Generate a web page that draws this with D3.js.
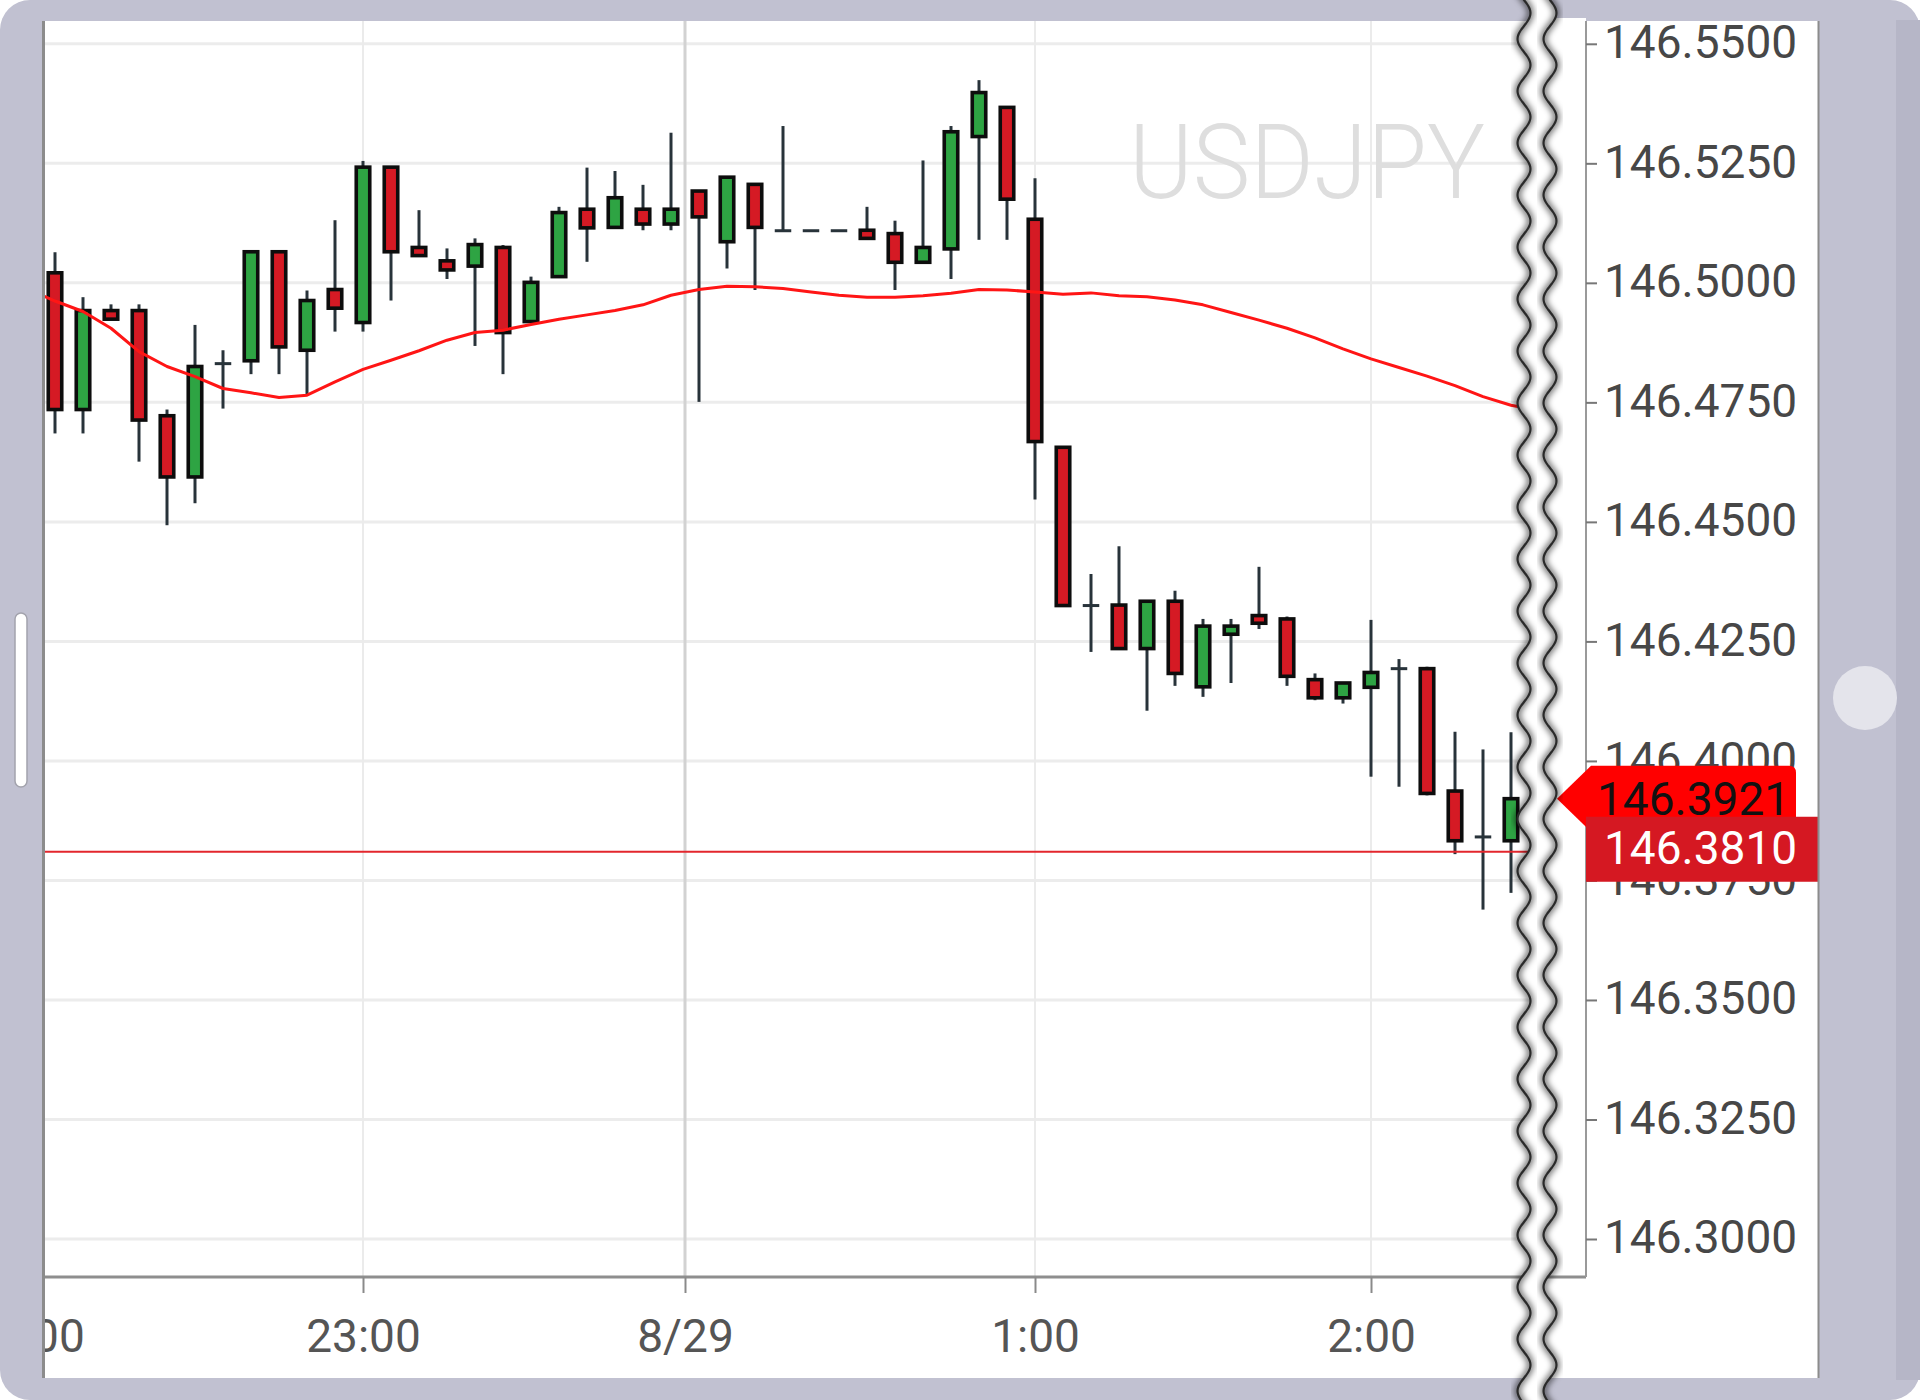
<!DOCTYPE html>
<html><head><meta charset="utf-8">
<script src="https://cdn.jsdelivr.net/npm/d3@7"></script>
<style>
html,body{margin:0;padding:0;background:#fff;}
svg{display:block;font-family:Roboto,"Noto Sans",sans-serif;}
</style>
</head><body>
<svg id="chart" width="1920" height="1400"></svg>
<script>
// ---- data (5-minute USDJPY candles) ----
const opens  = [146.5021,146.4735,146.4942,146.4942,146.4722,146.4594,146.4831,146.4837,146.5065,146.4859,
                146.4986,146.4917,146.5242,146.5074,146.5046,146.5035,146.5074,146.4919,146.5013,146.5154,
                146.5116,146.5154,146.5123,146.5192,146.5086,146.5206,146.5109,146.5109,146.5109,146.5110,
                146.5103,146.5043,146.5071,146.5306,146.5367,146.5133,146.4656,146.4325,146.4326,146.4235,
                146.4334,146.4155,146.4265,146.4304,146.4297,146.4170,146.4132,146.4154,146.4193,146.4193,
                146.3937,146.3841,146.3833];
const highs  = [146.5064,146.4970,146.4955,146.4955,146.4735,146.4912,146.4859,146.5065,146.5065,146.4984,
                146.5131,146.5255,146.5242,146.5152,146.5072,146.5093,146.5079,146.5013,146.5159,146.5241,
                146.5234,146.5205,146.5314,146.5192,146.5221,146.5206,146.5328,146.5109,146.5109,146.5159,
                146.5130,146.5256,146.5328,146.5424,146.5367,146.5219,146.4656,146.4391,146.4449,146.4334,
                146.4356,146.4297,146.4297,146.4406,146.4302,146.4183,146.4163,146.4295,146.4213,146.4197,
                146.4061,146.4024,146.4060];
const lows   = [146.4685,146.4685,146.4924,146.4626,146.4493,146.4539,146.4737,146.4809,146.4809,146.4767,
                146.4898,146.4898,146.4963,146.5057,146.5008,146.4868,146.4809,146.4919,146.5013,146.5044,
                146.5116,146.5110,146.5110,146.4751,146.5030,146.4985,146.5109,146.5109,146.5109,146.5093,
                146.4985,146.5043,146.5008,146.5090,146.5090,146.4547,146.4325,146.4228,146.4235,146.4105,
                146.4157,146.4134,146.4163,146.4276,146.4157,146.4127,146.4120,146.3967,146.3946,146.3928,
                146.3805,146.3689,146.3724];
const closes = [146.4735,146.4942,146.4924,146.4713,146.4594,146.4825,146.4831,146.5065,146.4866,146.4963,
                146.4947,146.5242,146.5065,146.5057,146.5027,146.5080,146.4896,146.5001,146.5147,146.5115,
                146.5178,146.5123,146.5154,146.5138,146.5221,146.5116,146.5109,146.5109,146.5109,146.5093,
                146.5043,146.5074,146.5316,146.5398,146.5175,146.4668,146.4325,146.4325,146.4235,146.4334,
                146.4183,146.4282,146.4282,146.4288,146.4177,146.4132,146.4163,146.4185,146.4193,146.3932,
                146.3833,146.3841,146.3921];
// moving average, first value belongs to the bar before the first visible candle
const maValues = [146.4988,146.4962,146.4940,146.4905,146.4856,146.4825,146.4804,146.4779,146.4770,146.4760,146.4765,
                  146.4793,146.4819,146.4838,146.4858,146.4880,146.4896,146.4901,146.4913,146.4924,146.4933,
                  146.4942,146.4954,146.4974,146.4986,146.4993,146.4992,146.4988,146.4981,146.4974,146.4970,
                  146.4970,146.4973,146.4978,146.4986,146.4985,146.4981,146.4976,146.4979,146.4973,146.4971,
                  146.4964,146.4954,146.4938,146.4922,146.4905,146.4885,146.4862,146.4841,146.4823,146.4805,
                  146.4785,146.4762,146.4744,146.4733];
const yTickValues = [146.300,146.325,146.350,146.375,146.400,146.425,146.450,146.475,146.500,146.525,146.550];
const xTickIndex  = [-1, 11, 22.5, 35, 47];
const xTickLabels = ["22:00","23:00","8/29","1:00","2:00"];
const bidPrice  = 146.3810;
const lastPrice = 146.3921;
const symbol = "USDJPY";

// ---- layout ----
const W = 1920, H = 1400;
const panel = {l:45, t:21, r:1818, b:1378};
const plot  = {l:45, t:21, r:1586, b:1277};
const svg = d3.select("#chart");
const defs = svg.append("defs");
defs.append("clipPath").attr("id","plotClip").append("rect")
  .attr("x",plot.l).attr("y",plot.t).attr("width",plot.r-plot.l).attr("height",plot.b-plot.t);
defs.append("clipPath").attr("id","panelClip").append("rect")
  .attr("x",panel.l).attr("y",panel.t).attr("width",panel.r-panel.l).attr("height",panel.b-panel.t);
const blur = defs.append("filter").attr("id","soft").attr("x","-50%").attr("y","-5%").attr("width","200%").attr("height","110%");
blur.append("feGaussianBlur").attr("stdDeviation",3);

const x = d3.scaleLinear().domain([0, 52]).range([55, 1511]);
const y = d3.scaleLinear().domain([146.30, 146.55]).range([1239, 43.8]);

// frame
svg.append("rect").attr("x",0).attr("y",0).attr("width",W).attr("height",H).attr("rx",30).attr("fill","#c1c1d1");
svg.append("rect").attr("x",1896).attr("y",20).attr("width",24).attr("height",1360).attr("fill","#b6b6c7");
svg.append("rect").attr("x",panel.l).attr("y",panel.t).attr("width",panel.r-panel.l).attr("height",panel.b-panel.t).attr("fill","#fff");

const g = svg.append("g").attr("clip-path","url(#plotClip)");
// grid
g.selectAll("line.hg").data(yTickValues).join("line").attr("class","hg")
  .attr("x1",plot.l).attr("x2",plot.r).attr("y1",d=>y(d)).attr("y2",d=>y(d))
  .attr("stroke","#ececec").attr("stroke-width",3);
g.selectAll("line.vg").data(xTickIndex).join("line").attr("class","vg")
  .attr("x1",d=>x(d)).attr("x2",d=>x(d)).attr("y1",plot.t).attr("y2",plot.b)
  .attr("stroke",(d,i)=>xTickLabels[i].includes("/")?"#d2d2d2":"#ebebeb")
  .attr("stroke-width",(d,i)=>xTickLabels[i].includes("/")?3:2);
// watermark
g.append("text").attr("x",1485).attr("y",198).attr("text-anchor","end")
  .attr("font-size",104).attr("font-weight",300).attr("fill","#dedede")
  .attr("textLength",356).attr("lengthAdjust","spacingAndGlyphs").text(symbol);

// candles
const candles = opens.map((o,i)=>({i, o, h:highs[i], l:lows[i], c:closes[i]}));
g.selectAll("line.wick").data(candles.filter(d=>d.h>d.l)).join("line").attr("class","wick")
  .attr("x1",d=>x(d.i)).attr("x2",d=>x(d.i)).attr("y1",d=>y(d.h)).attr("y2",d=>y(d.l))
  .attr("stroke","#28333a").attr("stroke-width",3);
const bw = 13.5;
g.selectAll("line.flat").data(candles.filter(d=>Math.abs(y(d.o)-y(d.c))<2)).join("line").attr("class","flat")
  .attr("x1",d=>x(d.i)-bw/2-1.5).attr("x2",d=>x(d.i)+bw/2+1.5).attr("y1",d=>y(d.c)).attr("y2",d=>y(d.c))
  .attr("stroke","#28333a").attr("stroke-width",3);
g.selectAll("rect.body").data(candles.filter(d=>Math.abs(y(d.o)-y(d.c))>=2)).join("rect").attr("class","body")
  .attr("x",d=>x(d.i)-bw/2).attr("width",bw)
  .attr("y",d=>Math.min(y(d.o),y(d.c))).attr("height",d=>Math.abs(y(d.o)-y(d.c)))
  .attr("fill",d=>d.c>d.o?"#2ea443":"#d51a24").attr("stroke","#0d0d0d").attr("stroke-width",3.6);

// moving average
g.append("path").datum(maValues)
  .attr("d",d3.line().x((d,k)=>x(k-1)).y(d=>y(d)))
  .attr("fill","none").attr("stroke","#ff1515").attr("stroke-width",3).attr("stroke-linejoin","round");
// bid line
g.append("line").attr("x1",plot.l).attr("x2",plot.r).attr("y1",y(bidPrice)).attr("y2",y(bidPrice))
  .attr("stroke","#e3262c").attr("stroke-width",2.2);

// tear geometry
const period = 52, amp = 6.5;
const waveYs = d3.range(-30, H+31, 2);
const leftWave  = waveYs.map(v=>[1524 + amp*Math.sin(v/period*2*Math.PI), v]);
const rightWave = waveYs.map(v=>[1550 + amp*Math.sin(v/period*2*Math.PI), v]);

// clear plot right of tear
const clearPts = leftWave.filter(p=>p[1]>=plot.t-3 && p[1]<=plot.b+3);
clearPts.push([plot.r, plot.b+3],[plot.r, plot.t-3]);
svg.append("path").attr("d","M"+clearPts.map(p=>p.join(",")).join("L")+"Z").attr("fill","#fff");

// axes lines
svg.append("line").attr("x1",plot.l).attr("x2",plot.r).attr("y1",plot.b).attr("y2",plot.b).attr("stroke","#8e8e8e").attr("stroke-width",3);
svg.append("line").attr("x1",plot.r).attr("x2",plot.r).attr("y1",plot.t).attr("y2",plot.b).attr("stroke","#9a9a9a").attr("stroke-width",2);

// y axis
const yAxis = svg.append("g").attr("transform",`translate(${plot.r},0)`)
  .call(d3.axisRight(y).tickValues(yTickValues).tickFormat(d3.format(".4f")).tickSize(11).tickPadding(7));
yAxis.select(".domain").remove();
yAxis.selectAll(".tick line").attr("stroke","#777").attr("stroke-width",2);
yAxis.selectAll(".tick text").attr("font-size",46).attr("fill","#474747").attr("font-family","Roboto").attr("dy","0.3em");

// x axis
const xAxis = svg.append("g").attr("clip-path","url(#panelClip)").append("g").attr("transform",`translate(0,${plot.b})`)
  .call(d3.axisBottom(x).tickValues(xTickIndex).tickFormat((d,i)=>xTickLabels[i]).tickSize(16).tickPadding(26));
xAxis.select(".domain").remove();
xAxis.selectAll(".tick line").attr("stroke","#8a8a8a").attr("stroke-width",2);
xAxis.selectAll(".tick text").attr("font-size",46).attr("fill","#555").attr("font-family","Roboto");

// last price label (bright red, arrow)
const yl = y(lastPrice);
svg.append("path")
  .attr("d",`M1557,${yl} L1591,${yl-33} L1789,${yl-33} Q1796,${yl-33} 1796,${yl-26} L1796,${yl+26} Q1796,${yl+33} 1789,${yl+33} L1591,${yl+33} Z`)
  .attr("fill","#ff0000");
svg.append("text").attr("x",1597).attr("y",yl).attr("dy","0.36em").attr("font-size",46).attr("fill","#111").text(d3.format(".4f")(lastPrice));
// bid label
const yb = y(bidPrice);
svg.append("rect").attr("x",plot.r).attr("y",yb-35).attr("width",panel.r-plot.r).attr("height",65).attr("fill","#d51822");
svg.append("text").attr("x",1604).attr("y",yb-4).attr("dy","0.36em").attr("font-size",46).attr("fill","#fff").text(d3.format(".4f")(bidPrice));

// panel borders & decorations
svg.append("line").attr("x1",43.5).attr("x2",43.5).attr("y1",panel.t).attr("y2",panel.b).attr("stroke","#8c8c8c").attr("stroke-width",3);
svg.append("line").attr("x1",1818.5).attr("x2",1818.5).attr("y1",panel.t).attr("y2",panel.b).attr("stroke","#8c8c8c").attr("stroke-width",2);
svg.append("rect").attr("x",15).attr("y",613).attr("width",12).attr("height",174).attr("rx",6)
  .attr("fill","#fff").attr("stroke","#a3a3ad").attr("stroke-width",1.5);
svg.append("circle").attr("cx",1865).attr("cy",698).attr("r",32).attr("fill","#e4e4eb");

// tear
const gapPts = leftWave.concat(rightWave.slice().reverse());
svg.append("path").attr("d","M"+gapPts.map(p=>p.join(",")).join("L")+"Z").attr("fill","#fff");
const wl = d3.line().curve(d3.curveBasis);
[leftWave, rightWave].forEach(w=>{
  svg.append("path").attr("d",wl(w)).attr("fill","none").attr("stroke","#000").attr("stroke-opacity",0.6)
    .attr("stroke-width",6).attr("filter","url(#soft)");
  svg.append("path").attr("d",wl(w)).attr("fill","none").attr("stroke","#2a2a2a").attr("stroke-width",2.2);
});
</script>
</body></html>
